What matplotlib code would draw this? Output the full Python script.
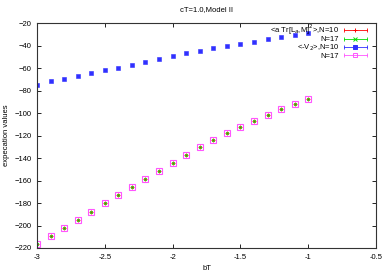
import matplotlib
matplotlib.use("Agg")
import matplotlib.pyplot as plt
from matplotlib.lines import Line2D
from matplotlib.legend_handler import HandlerLine2D

plt.rcParams['font.family'] = ['Liberation Sans', 'DejaVu Sans']

bT = [-3.0, -2.9, -2.8, -2.7, -2.6, -2.5, -2.4, -2.3, -2.2, -2.1, -2.0,
      -1.9, -1.8, -1.7, -1.6, -1.5, -1.4, -1.3, -1.2, -1.1, -1.0]

# <a Tr[L_a M]^2>
atr_n10 = [-216.7, -209.0, -202.2, -194.7, -187.6, -180.2, -173.0, -165.6, -158.5, -151.4, -144.2,
           -137.1, -130.4, -124.0, -118.0, -112.4, -106.8, -101.7, -96.6, -91.9, -87.7]
atr_n17 = list(atr_n10)
# <-V_2>
v2_n10 = [-74.7, -71.7, -69.6, -67.0, -64.3, -61.9, -59.5, -56.9, -54.2, -51.8, -49.4,
          -46.7, -44.4, -42.3, -40.0, -38.2, -36.4, -34.3, -32.5, -30.7, -28.9]
v2_n17 = list(atr_n10)

labels = ["<a Tr[L$_a$,M]$^2$>,N=10", "N=17", "<-V$_2$>,N=10", "N=17"]
colors = ["#ff0000", "#00dd00", "#3030ff", "#ff55ff"]

fs = 5.5
fig = plt.figure(figsize=(3.89, 2.73), dpi=100)
ax = fig.add_axes([37/389, 1 - 248/273, 339/389, (248 - 23.3)/273])

ax.plot(bT, atr_n10, ls="none", marker="+", ms=3, mew=0.6, color=colors[0])
ax.plot(bT, atr_n17, ls="none", marker="x", ms=2, mew=0.6, color=colors[1])
ax.plot(bT, v2_n10, ls="none", marker="s", ms=2.2, mew=0.4, color=colors[2])
ax.plot(bT, v2_n17, ls="none", marker="s", ms=3.8, mew=0.8, mfc="none", color=colors[3])

ax.set_xlim(-3, -0.5)
ax.set_ylim(-220, -20)
ax.set_xticks([-3, -2.5, -2, -1.5, -1, -0.5])
ax.set_xticklabels(["-3", "-2.5", "-2", "-1.5", "-1", "-0.5"])
ax.set_yticks(range(-220, -19, 20))
ax.tick_params(direction="in", top=True, right=True, labelsize=fs, length=3, width=0.6, pad=4)
for s in ax.spines.values():
    s.set_linewidth(0.8)
    s.set_color("#333333")

ax.set_title("cT=1.0,Model II", fontsize=fs, pad=9)
ax.set_xlabel("bT", fontsize=fs, labelpad=3)
ax.set_ylabel("expecation values", fontsize=fs, labelpad=3)

markers = [("+", 3, "full"), ("x", 2.5, "full"), ("s", 2.2, "full"), ("s", 3.5, "none")]
handles = []
hmap = {}
for c, (m, ms, fill) in zip(colors, markers):
    caps = Line2D([], [], color=c, lw=0.6, marker="|", ms=3.5, mew=0.6)
    mfc = "none" if fill == "none" else c
    center = Line2D([], [], color=c, lw=0, marker=m, ms=ms, mew=0.7, mfc=mfc)
    hmap[caps] = HandlerLine2D(numpoints=2, marker_pad=0)
    handles.append((caps, center))

ax.legend(handles, labels, handler_map=hmap, loc="upper right", frameon=False,
          bbox_to_anchor=(0.982, 1.018), markerfirst=False, fontsize=fs, numpoints=1,
          handlelength=3.0, handletextpad=0.6, labelspacing=-0.08, borderaxespad=0.0,
          borderpad=0.4)

fig.savefig("out.png", dpi=100)
